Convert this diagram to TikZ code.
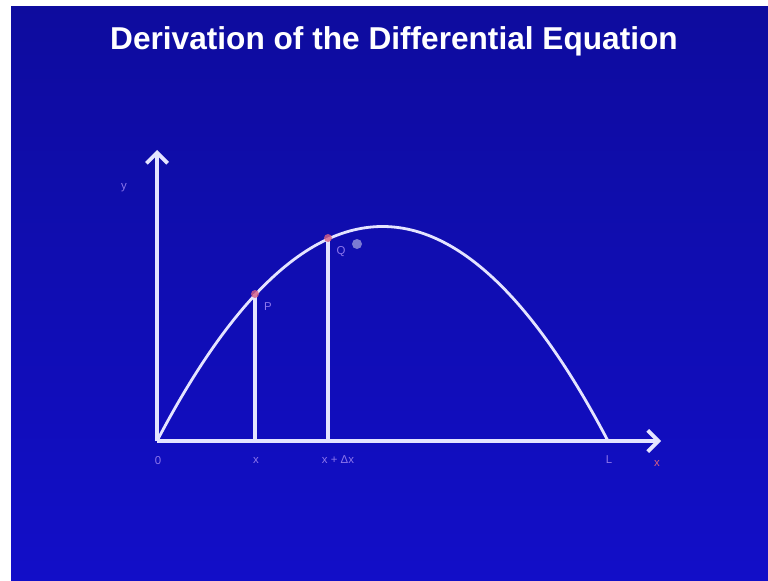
\documentclass[tikz,border=0pt]{standalone}
\usepackage{fontspec}
\setmainfont{Liberation Sans}
\usetikzlibrary{arrows.meta}

\definecolor{slidetop}{RGB}{14,12,158}
\definecolor{slidebot}{RGB}{18,14,200}
\definecolor{chalk}{RGB}{228,228,255}
\definecolor{faint}{RGB}{140,118,236}
\definecolor{dotred}{RGB}{214,96,132}

\tikzset{
  axis/.style={chalk,line width=2.2pt,-{Straight Barb[length=6pt,width=12pt]}},
  curve/.style={chalk,line width=1.6pt},
  ordinate/.style={chalk,line width=1.8pt},
  tick/.style={text=faint,font=\fontsize{6.5}{7}\selectfont,inner sep=1pt}
}

\begin{document}
\begin{tikzpicture}[x=0.02cm,y=-0.02cm]
\useasboundingbox (0,0) rectangle (768,581);

\fill[white] (0,0) rectangle (768,581);
\shade[top color=slidetop,bottom color=slidebot] (11,7) rectangle (768,581);

\node[text=white,font=\bfseries\fontsize{18}{21}\selectfont] (title) at (394,41) {Derivation of the Differential Equation};

% axes
\coordinate (O) at (157,441);
\coordinate (ytop) at (157,150);
\coordinate (xend) at (661,441);
\coordinate (Lpt) at (608,441);

\draw[axis] (O) -- (ytop);
\draw[axis] (O) -- (xend);

% the curve
\draw[curve] (O) .. controls (307,155) and (458,155) .. (Lpt);

% ordinates at x and x + dx
\coordinate (xa) at (255,441);
\coordinate (xb) at (328,441);
\coordinate (P) at (255,294);
\coordinate (Q) at (328,238);

\draw[ordinate] (xa) -- (P);
\draw[ordinate] (xb) -- (Q);

\fill[dotred,opacity=0.8] (P) circle (4);
\fill[dotred,opacity=0.8] (Q) circle (4);
\fill[white,opacity=0.45] (357,244) circle (5);

% labels
\node[tick] (labP) at (268,307) {P};
\node[tick] (labQ) at (341,252) {Q};
\node[tick] (labY) at (124,188) {y};
\node[tick] (lab0) at (158,461) {0};
\node[tick] (labx) at (256,460) {x};
\node[tick] (labdx) at (338,460) {x + Δx};
\node[tick] (labL) at (609,460) {L};
\node[tick,text=dotred] (labX) at (657,463) {x};
\end{tikzpicture}
\end{document}
